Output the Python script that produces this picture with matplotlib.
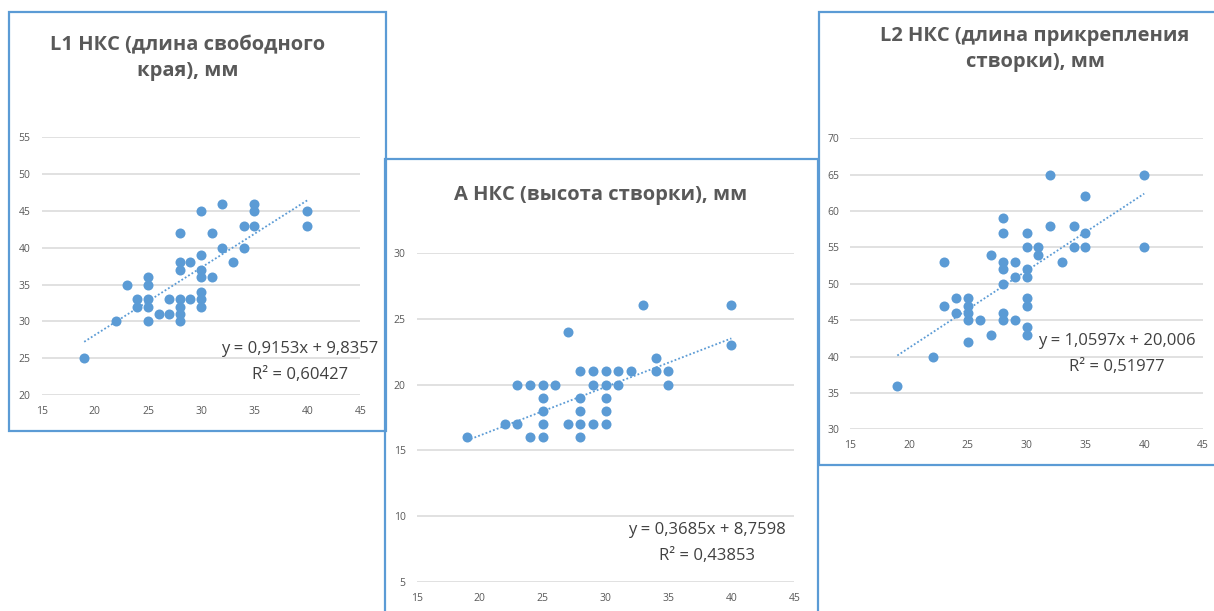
import matplotlib.pyplot as plt
from matplotlib.patches import Rectangle
import numpy as np

plt.rcParams['font.family'] = ['Open Sans', 'DejaVu Sans']

W, H = 1214, 611
BLUE = '#5B9BD5'
GRID = '#D9D9D9'
LABEL = '#595959'
EQ = '#404040'

# L1 - free edge length
l1_x = [19, 22, 23, 24, 24, 25, 25, 25, 25, 25, 26, 27, 27, 28, 28, 28, 28, 28, 28, 28,
        29, 29, 30, 30, 30, 30, 30, 30, 30, 31, 31, 32, 32, 33, 34, 34, 35, 35, 35, 40, 40]
l1_y = [25, 30, 35, 33, 32, 36, 35, 33, 32, 30, 31, 33, 31, 42, 38, 37, 33, 32, 31, 30,
        38, 33, 45, 39, 37, 36, 34, 33, 32, 42, 36, 46, 40, 38, 43, 40, 46, 45, 43, 45, 43]
l1_fit = [0.9153, 9.8357]
l1_eq = ['y = 0,9153x + 9,8357', 'R² = 0,60427']

# A - leaflet height
a_x = [19, 22, 23, 23, 24, 24, 25, 25, 25, 25, 25, 26, 27, 27, 28, 28, 28, 28, 28,
       29, 29, 29, 30, 30, 30, 30, 30, 31, 31, 32, 33, 34, 34, 35, 35, 40, 40]
a_y = [16, 17, 20, 17, 20, 16, 20, 19, 18, 17, 16, 20, 24, 17, 21, 19, 18, 17, 16,
       21, 20, 17, 21, 20, 19, 18, 17, 21, 20, 21, 26, 22, 21, 21, 20, 26, 23]
a_fit = [0.3685, 8.7598]
a_eq = ['y = 0,3685x + 8,7598', 'R² = 0,43853']

# L2 - attachment length
l2_x = [19, 22, 23, 23, 24, 24, 25, 25, 25, 25, 25, 26, 27, 27, 28, 28, 28, 28, 28, 28, 28,
        29, 29, 29, 30, 30, 30, 30, 30, 30, 30, 30, 31, 31, 32, 32, 33, 34, 34, 35, 35, 35, 40, 40]
l2_y = [36, 40, 53, 47, 48, 46, 48, 47, 46, 45, 42, 45, 54, 43, 59, 57, 53, 52, 50, 46, 45,
        53, 51, 45, 57, 55, 52, 51, 48, 47, 44, 43, 55, 54, 65, 58, 53, 58, 55, 62, 57, 55, 65, 55]
l2_fit = [1.0597, 20.006]
l2_eq = ['y = 1,0597x + 20,006', 'R² = 0,51977']

x_ticks = [15, 20, 25, 30, 35, 40, 45]
l1_yticks = [20, 25, 30, 35, 40, 45, 50, 55]
a_yticks = [5, 10, 15, 20, 25, 30]
l2_yticks = [30, 35, 40, 45, 50, 55, 60, 65, 70]

titles = ['L1 НКС (длина свободного\nкрая), мм',
          'А НКС (высота створки), мм',
          'L2 НКС (длина прикрепления\nстворки), мм']


def fx(x):
    return x / W


def fy(y):
    return 1 - y / H


fig = plt.figure(figsize=(W / 100, H / 100), dpi=100)
fig.patch.set_facecolor('white')

# chart frames (left, top, right, bottom in pixels)
frames = [(9, 12, 386, 431), (385, 159, 818, 640), (819, 12, 1260, 465)]
for l, t, r, b in frames:
    fig.patches.append(Rectangle((fx(l), fy(b)), (r - l) / W, (b - t) / H,
                                 transform=fig.transFigure, fill=False,
                                 edgecolor=BLUE, lw=1.6, clip_on=False))


def make_panel(rect, xs, ys, yticks, fit, eq, title, title_xy, eq_xy):
    x0, ytop, x1, ybot = rect
    ax = fig.add_axes([fx(x0), fy(ybot), (x1 - x0) / W, (ybot - ytop) / H])
    ax.set_xlim(15, 45)
    ax.set_ylim(yticks[0], yticks[-1])
    ax.set_xticks(x_ticks)
    ax.set_yticks(yticks)
    for s in ax.spines.values():
        s.set_visible(False)
    ax.grid(axis='y', color=GRID, lw=1.1)
    ax.set_axisbelow(True)
    ax.tick_params(length=0, labelsize=7.5, labelcolor=LABEL)
    ax.tick_params(axis='x', pad=8)
    ax.tick_params(axis='y', pad=8)
    ax.scatter(xs, ys, s=52, color=BLUE, zorder=3, linewidths=0)
    tx = np.array([min(xs), max(xs)])
    ax.plot(tx, fit[0] * tx + fit[1], color=BLUE, lw=1.3, linestyle=(0, (1, 1.2)), zorder=4)
    fig.text(fx(title_xy[0]), fy(title_xy[1]), title, ha='center', va='center',
             fontsize=14.5, fontweight='bold', color=LABEL, linespacing=1.4)
    fig.text(fx(eq_xy[0]), fy(eq_xy[1]), eq[0], ha='center', va='center',
             fontsize=12, color=EQ)
    fig.text(fx(eq_xy[0]), fy(eq_xy[1] + 26), eq[1], ha='center', va='center',
             fontsize=12, color=EQ)
    return ax


make_panel((41.7, 137.3, 360.5, 395), l1_x, l1_y, l1_yticks, l1_fit, l1_eq,
           titles[0], (188, 58), (300, 349))
make_panel((416.7, 252.7, 794.3, 582.3), a_x, a_y, a_yticks, a_fit, a_eq,
           titles[1], (601, 195), (707, 530))
make_panel((850.3, 138.3, 1203, 429.3), l2_x, l2_y, l2_yticks, l2_fit, l2_eq,
           titles[2], (1035, 49), (1117, 341))

fig.savefig('out.png', dpi=100)
